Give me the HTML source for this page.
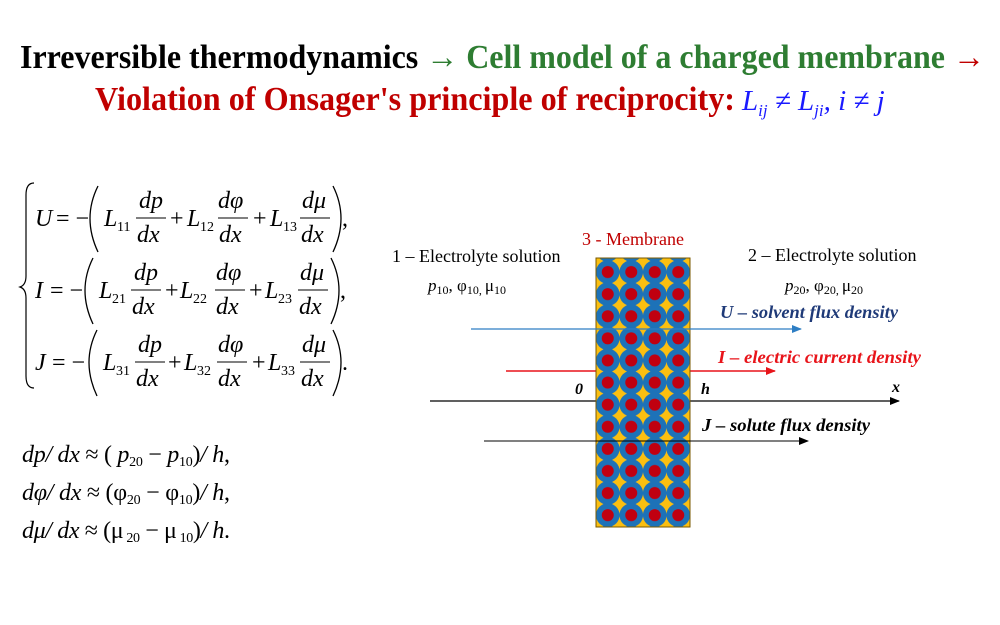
<!DOCTYPE html>
<html><head><meta charset="utf-8"><style>
html,body{margin:0;padding:0;background:#fff;width:1000px;height:625px;overflow:hidden}
svg{display:block}
text{font-family:"Liberation Serif",serif}
.m{font-style:italic;font-size:24px}
.r{font-size:24px}
.s{font-size:14px}
</style></head><body>
<svg width="1000" height="625" viewBox="0 0 1000 625" xmlns="http://www.w3.org/2000/svg">
<defs>
<marker id="ab" markerWidth="10" markerHeight="8" refX="9" refY="4" orient="auto" markerUnits="userSpaceOnUse"><path d="M0,0 L10,4 L0,8z" fill="#2e7ec4"/></marker>
<marker id="ar" markerWidth="10" markerHeight="8" refX="9" refY="4" orient="auto" markerUnits="userSpaceOnUse"><path d="M0,0 L10,4 L0,8z" fill="#e8141a"/></marker>
<marker id="ak" markerWidth="10" markerHeight="8" refX="9" refY="4" orient="auto" markerUnits="userSpaceOnUse"><path d="M0,0 L10,4 L0,8z" fill="#000"/></marker>
<pattern id="cells" x="596" y="261" width="23.5" height="22.1" patternUnits="userSpaceOnUse">
<rect width="23.5" height="22.1" fill="#fbbf10"/>
<circle cx="11.75" cy="11.05" r="11.8" fill="#1d72b8"/>
<circle cx="11.75" cy="11.05" r="6" fill="#c00010"/>
</pattern>
</defs>

<text x="20" y="68" font-size="34" font-weight="bold" textLength="965" lengthAdjust="spacingAndGlyphs"><tspan fill="#000">Irreversible thermodynamics</tspan><tspan fill="#2e7d32"> → Cell model of a charged membrane</tspan><tspan fill="#c00000"> →</tspan></text>
<text x="95" y="110" font-size="34" font-weight="bold" fill="#c00000" textLength="640" lengthAdjust="spacingAndGlyphs">Violation of Onsager's principle of reciprocity:</text>
<text x="742" y="110" font-size="29" font-style="italic" fill="#1a1aff">L<tspan font-size="17" dy="6">ij</tspan><tspan dy="-6"> ≠ L</tspan><tspan font-size="17" dy="6">ji</tspan><tspan dy="-6">, i ≠ j</tspan></text>

<path d="M34,183 Q26,183 26,195 L26,276 Q26,285 20,287 Q26,289 26,298 L26,376 Q26,388 34,388" fill="none" stroke="#000" stroke-width="1.2"/>

<g>
<text class="m" x="35" y="226">U</text>
<text class="r" x="56" y="226">= −</text>
<path d="M98,186 Q82,218 98,252" fill="none" stroke="#000" stroke-width="1.3"/>
<text class="m" x="104" y="226">L</text><text class="s" x="117" y="231">11</text>
<text class="m" x="139" y="208">dp</text><line x1="136" y1="218" x2="166" y2="218" stroke="#000"/><text class="m" x="137" y="242">dx</text>
<text class="r" x="170" y="226">+</text>
<text class="m" x="187" y="226">L</text><text class="s" x="200" y="231">12</text>
<text class="m" x="218" y="208">dφ</text><line x1="218" y1="218" x2="248" y2="218" stroke="#000"/><text class="m" x="219" y="242">dx</text>
<text class="r" x="253" y="226">+</text>
<text class="m" x="270" y="226">L</text><text class="s" x="283" y="231">13</text>
<text class="m" x="302" y="208">dμ</text><line x1="300" y1="218" x2="330" y2="218" stroke="#000"/><text class="m" x="301" y="242">dx</text>
<path d="M333,186 Q349,218 333,252" fill="none" stroke="#000" stroke-width="1.3"/>
<text class="r" x="342" y="226">,</text>
</g>
<g>
<text class="m" x="35" y="298">I</text>
<text class="r" x="50" y="298">= −</text>
<path d="M93,258 Q77,290 93,324" fill="none" stroke="#000" stroke-width="1.3"/>
<text class="m" x="99" y="298">L</text><text class="s" x="112" y="303">21</text>
<text class="m" x="134" y="280">dp</text><line x1="131" y1="290" x2="161" y2="290" stroke="#000"/><text class="m" x="132" y="314">dx</text>
<text class="r" x="165" y="298">+</text>
<text class="m" x="180" y="298">L</text><text class="s" x="193" y="303">22</text>
<text class="m" x="216" y="280">dφ</text><line x1="215" y1="290" x2="245" y2="290" stroke="#000"/><text class="m" x="216" y="314">dx</text>
<text class="r" x="249" y="298">+</text>
<text class="m" x="265" y="298">L</text><text class="s" x="278" y="303">23</text>
<text class="m" x="300" y="280">dμ</text><line x1="298" y1="290" x2="328" y2="290" stroke="#000"/><text class="m" x="299" y="314">dx</text>
<path d="M331,258 Q347,290 331,324" fill="none" stroke="#000" stroke-width="1.3"/>
<text class="r" x="340" y="298">,</text>
</g>
<g>
<text class="m" x="35" y="370">J</text>
<text class="r" x="52" y="370">= −</text>
<path d="M97,330 Q81,362 97,396" fill="none" stroke="#000" stroke-width="1.3"/>
<text class="m" x="103" y="370">L</text><text class="s" x="116" y="375">31</text>
<text class="m" x="138" y="352">dp</text><line x1="135" y1="362" x2="165" y2="362" stroke="#000"/><text class="m" x="136" y="386">dx</text>
<text class="r" x="168" y="370">+</text>
<text class="m" x="184" y="370">L</text><text class="s" x="197" y="375">32</text>
<text class="m" x="218" y="352">dφ</text><line x1="217" y1="362" x2="247" y2="362" stroke="#000"/><text class="m" x="218" y="386">dx</text>
<text class="r" x="252" y="370">+</text>
<text class="m" x="268" y="370">L</text><text class="s" x="281" y="375">33</text>
<text class="m" x="302" y="352">dμ</text><line x1="300" y1="362" x2="330" y2="362" stroke="#000"/><text class="m" x="301" y="386">dx</text>
<path d="M333,330 Q349,362 333,396" fill="none" stroke="#000" stroke-width="1.3"/>
<text class="r" x="342" y="370">.</text>
</g>

<text class="m" x="22" y="462" textLength="208">dp/ dx<tspan font-style="normal"> ≈ ( </tspan>p<tspan class="s" font-style="normal" dy="4">20</tspan><tspan font-style="normal" dy="-4"> − </tspan>p<tspan class="s" font-style="normal" dy="4">10</tspan><tspan font-style="normal" dy="-4">)</tspan>/ h<tspan font-style="normal">,</tspan></text>
<text class="m" x="22" y="500" textLength="208">dφ/ dx<tspan font-style="normal"> ≈ (φ</tspan><tspan class="s" font-style="normal" dy="4">20</tspan><tspan font-style="normal" dy="-4"> − φ</tspan><tspan class="s" font-style="normal" dy="4">10</tspan><tspan font-style="normal" dy="-4">)</tspan>/ h<tspan font-style="normal">,</tspan></text>
<text class="m" x="22" y="538" textLength="208">dμ/ dx<tspan font-style="normal"> ≈ (μ</tspan><tspan class="s" font-style="normal" dy="4"> 20</tspan><tspan font-style="normal" dy="-4"> − μ</tspan><tspan class="s" font-style="normal" dy="4"> 10</tspan><tspan font-style="normal" dy="-4">)</tspan>/ h<tspan font-style="normal">.</tspan></text>

<text x="582" y="245" font-size="18" fill="#c00000">3 - Membrane</text>
<text x="392" y="262" font-size="18">1 – Electrolyte solution</text>
<text x="428" y="291" font-size="17" font-style="italic">p<tspan font-style="normal" font-size="12" dy="3">10</tspan><tspan font-style="normal" dy="-3">, φ</tspan><tspan font-style="normal" font-size="12" dy="3">10, </tspan><tspan font-style="normal" dy="-3">μ</tspan><tspan font-style="normal" font-size="12" dy="3">10</tspan></text>
<text x="748" y="261" font-size="18">2 – Electrolyte solution</text>
<text x="785" y="291" font-size="17" font-style="italic">p<tspan font-style="normal" font-size="12" dy="3">20</tspan><tspan font-style="normal" dy="-3">, φ</tspan><tspan font-style="normal" font-size="12" dy="3">20, </tspan><tspan font-style="normal" dy="-3">μ</tspan><tspan font-style="normal" font-size="12" dy="3">20</tspan></text>

<line x1="506" y1="371" x2="775" y2="371" stroke="#e8141a" stroke-width="1.6" marker-end="url(#ar)"/>
<line x1="430" y1="401" x2="899" y2="401" stroke="#000" stroke-width="1.2" marker-end="url(#ak)"/>

<rect x="596" y="258" width="94" height="269" fill="url(#cells)" stroke="#7a5a00" stroke-width="1"/>

<line x1="471" y1="329" x2="801" y2="329" stroke="#2e7ec4" stroke-width="1.3" marker-end="url(#ab)"/>
<line x1="484" y1="441" x2="808" y2="441" stroke="#000" stroke-width="1" marker-end="url(#ak)"/>

<text x="720" y="318" font-size="18" font-weight="bold" font-style="italic" fill="#1f3a78" textLength="178" lengthAdjust="spacingAndGlyphs">U – solvent flux density</text>
<text x="718" y="363" font-size="18" font-weight="bold" font-style="italic" fill="#e8141a" textLength="203" lengthAdjust="spacingAndGlyphs">I – electric current density</text>
<text x="702" y="431" font-size="18" font-weight="bold" font-style="italic" textLength="168" lengthAdjust="spacingAndGlyphs">J – solute flux density</text>
<text x="575" y="394" font-size="16" font-weight="bold" font-style="italic">0</text>
<text x="701" y="394" font-size="16" font-weight="bold" font-style="italic">h</text>
<text x="892" y="392" font-size="16" font-weight="bold" font-style="italic">x</text>
</svg>
</body></html>
